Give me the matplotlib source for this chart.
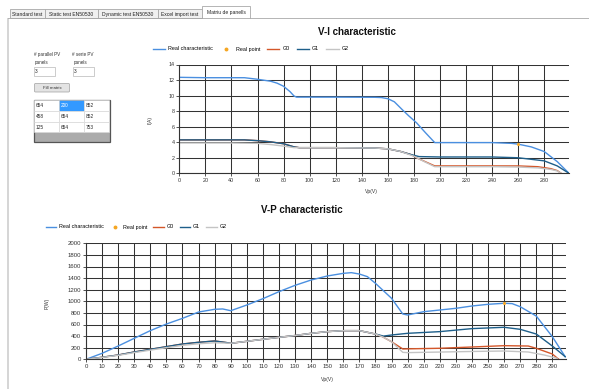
import matplotlib
matplotlib.use("Agg")
import matplotlib.pyplot as plt
from matplotlib.patches import Rectangle, FancyBboxPatch

plt.rcParams['font.family'] = ['Liberation Sans', 'DejaVu Sans']

# ---- data ----
tab_names = ["Standard test", "Static test EN50530", "Dynamic test EN50530",
             "Excel import test", "Matriu de panells"]
matrix_values = [["654", "200", "852"],
                 ["458", "654", "852"],
                 ["125", "654", "753"]]
n_parallel = "3"
n_serie = "3"

# V-I characteristic
vi_v_real = [0, 20, 40, 50, 60, 70, 75, 80, 85, 88, 90, 120, 150, 155, 160, 165,
             171, 176, 182, 189, 196, 220, 240, 255, 260, 270, 280, 290, 299]
vi_i_real = [12.35, 12.3, 12.3, 12.3, 12.1, 11.85, 11.6, 11.2, 10.5, 9.95, 9.8, 9.8,
             9.78, 9.75, 9.6, 9.2, 8.2, 7.4, 6.5, 5.2, 3.95, 3.95, 3.95, 3.85, 3.75,
             3.4, 2.8, 1.5, 0.0]
vi_v_g1 = [0, 40, 50, 60, 70, 80, 88, 92, 120, 150, 160, 170, 178, 184, 200, 240,
           260, 270, 280, 290, 299]
vi_i_g1 = [4.3, 4.3, 4.3, 4.2, 4.05, 3.8, 3.4, 3.3, 3.3, 3.25, 3.15, 2.8, 2.4, 2.15,
           2.1, 2.1, 2.0, 1.8, 1.6, 0.95, 0.0]
vi_v_g0 = [0, 40, 50, 60, 70, 80, 88, 92, 120, 150, 160, 170, 178, 182, 190, 196,
           240, 260, 275, 285, 290, 293]
vi_i_g0 = [4.3, 4.3, 4.3, 4.2, 4.05, 3.8, 3.4, 3.3, 3.3, 3.25, 3.15, 2.8, 2.4, 2.0,
           1.4, 0.95, 0.95, 0.95, 0.85, 0.6, 0.35, 0.0]
vi_v_g2 = [0, 40, 60, 70, 80, 88, 120, 150, 160, 170, 180, 188, 196, 240, 260, 275,
           285, 290, 293]
vi_i_g2 = [3.9, 3.9, 3.85, 3.7, 3.5, 3.3, 3.3, 3.25, 3.15, 2.8, 2.2, 1.5, 0.85, 0.85,
           0.8, 0.7, 0.5, 0.3, 0.0]
vi_point_v = [260]
vi_point_i = [3.75]

# V-P characteristic
vp_v_real = [0, 10, 20, 30, 40, 50, 60, 70, 80, 85, 90, 100, 110, 120, 130, 140, 150,
             160, 165, 170, 175, 180, 190, 197, 200, 210, 220, 230, 240, 250, 260, 265,
             270, 280, 290, 298]
vp_p_real = [0, 103, 229, 362, 494, 608, 706, 815, 862, 868, 838, 936, 1045, 1166,
             1275, 1367, 1436, 1482, 1494, 1470, 1425, 1310, 1052, 781, 764, 821, 850,
             879, 919, 948, 966, 960, 907, 746, 390, 45]
vp_v_g1 = [0, 10, 20, 30, 40, 50, 60, 70, 80, 87, 90, 100, 110, 120, 130, 140, 150,
           160, 170, 180, 185, 190, 200, 220, 240, 260, 270, 280, 290, 298]
vp_p_g1 = [0, 35, 74, 126, 172, 218, 264, 293, 316, 290, 276, 310, 345, 379, 410, 448,
           477, 494, 494, 436, 400, 419, 448, 477, 529, 552, 517, 436, 229, 45]
vp_v_g0 = [0, 10, 20, 30, 40, 50, 60, 70, 80, 87, 90, 100, 110, 120, 130, 140, 150,
           160, 170, 180, 184, 190, 197, 200, 220, 240, 260, 275, 280, 290, 294]
vp_p_g0 = [0, 35, 74, 126, 172, 218, 264, 293, 316, 290, 276, 310, 345, 379, 410, 448,
           477, 494, 494, 436, 395, 303, 178, 180, 190, 212, 235, 229, 190, 91, 0]
vp_v_g2 = [0, 10, 20, 30, 40, 50, 60, 70, 80, 87, 90, 100, 110, 120, 130, 140, 150,
           160, 170, 180, 185, 190, 197, 200, 220, 240, 260, 275, 285, 293]
vp_p_g2 = [0, 32, 68, 115, 158, 200, 240, 268, 285, 280, 276, 310, 345, 379, 410, 448,
           477, 494, 494, 436, 380, 303, 120, 115, 125, 135, 143, 126, 74, 17]
vp_point_v = [260]
vp_point_p = [966]

C_REAL, C_G0, C_G1, C_G2, C_PT = "#4a8fe0", "#d4572a", "#1e5f8a", "#c4c4c4", "#f5a623"

W, H = 589, 389
fig = plt.figure(figsize=(W / 100, H / 100), dpi=100)
fig.patch.set_facecolor("white")

# ---- window chrome (pixel coords) ----
ui = fig.add_axes([0, 0, 1, 1])
ui.set_xlim(0, W); ui.set_ylim(H, 0); ui.axis("off")

tab_x = [10, 45, 98, 158, 202, 250]
for k, name in enumerate(tab_names):
    x0, x1 = tab_x[k], tab_x[k + 1]
    sel = k == len(tab_names) - 1
    y0 = 6 if sel else 9
    ui.add_patch(Rectangle((x0, y0), x1 - x0, 18 - y0, facecolor="white" if sel else "#f0f0f0",
                           edgecolor="#a8a8a8", lw=0.6, zorder=2 if sel else 1))
    ui.text((x0 + x1) / 2, (y0 + 18) / 2 + 0.5, name, fontsize=3.6, ha="center",
            va="center", color="#222222", zorder=3)
ui.plot([8, 202], [18, 18], color="#a8a8a8", lw=0.6, zorder=2)
ui.plot([250, W], [18, 18], color="#a8a8a8", lw=0.6, zorder=2)
ui.add_patch(Rectangle((6.5, 18), 2.5, H - 18, facecolor="#d6d6d6", edgecolor="none"))

# inputs
ui.text(33.5, 54, "# parallel PV", fontsize=3.3, va="center", color="#333333")
ui.text(35, 62, "panels", fontsize=3.3, va="center", color="#333333")
ui.text(72.5, 54, "# serie PV", fontsize=3.3, va="center", color="#333333")
ui.text(74, 62, "panels", fontsize=3.3, va="center", color="#333333")
for bx, val in [(33.5, n_parallel), (72.7, n_serie)]:
    ui.add_patch(Rectangle((bx, 67), 21.5, 9, facecolor="white", edgecolor="#b8b8b8", lw=0.5))
    ui.text(bx + 1.5, 71.7, val, fontsize=3.5, va="center", color="#222222")
ui.add_patch(FancyBboxPatch((34.5, 83.5), 35, 8.5, boxstyle="round,pad=0,rounding_size=1",
                            facecolor="#e3e3e3", edgecolor="#a0a0a0", lw=0.5))
ui.text(52, 87.9, "Fill matrix", fontsize=3.2, ha="center", va="center", color="#333333")

# matrix grid
gx, gy, cw, rh = 33.5, 99.5, 25, 10.8
ui.add_patch(Rectangle((gx, gy), 3 * cw + 1.5, 42, facecolor="#ababab",
                       edgecolor="#555555", lw=0.9))
for r, row in enumerate(matrix_values):
    for c, val in enumerate(row):
        sel = (r, c) == (0, 1)
        ui.add_patch(Rectangle((gx + 0.5 + c * cw, gy + 0.5 + r * rh), cw, rh,
                               facecolor="#3399ff" if sel else "white",
                               edgecolor="#d8d8d8", lw=0.4))
        ui.text(gx + 2 + c * cw, gy + 0.5 + r * rh + rh / 2, val, fontsize=3.4, va="center",
                color="white" if sel else "#222222")


def style(ax, xmax, ymax, xstep, ystep):
    ax.set_xlim(0, xmax); ax.set_ylim(0, ymax)
    ax.set_xticks(range(0, int(xmax) + 1, xstep))
    ax.set_yticks(range(0, int(ymax) + 1, ystep))
    ax.grid(True, color="#333333", lw=0.75)
    ax.set_axisbelow(True)
    for s in ("top", "right"):
        ax.spines[s].set_visible(False)
    for s in ("left", "bottom"):
        ax.spines[s].set_color("#333333"); ax.spines[s].set_linewidth(0.8)
    ax.tick_params(length=2, width=0.6, pad=1.5, labelsize=3.9, colors="#333333")
    ax.patch.set_alpha(0)


# ---- V-I chart ----
ax1 = fig.add_axes([179.3 / W, 1 - 173.3 / H, 389.7 / W, 108.8 / H])
ax1.plot(vi_v_real, vi_i_real, color=C_REAL, lw=1.0, label="Real characteristic")
ax1.plot(vi_point_v, vi_point_i, "o", color=C_PT, ms=1.2, label="Real point", zorder=5)
ax1.plot(vi_v_g0, vi_i_g0, color=C_G0, lw=1.0, label="G0")
ax1.plot(vi_v_g1, vi_i_g1, color=C_G1, lw=1.0, label="G1")
ax1.plot(vi_v_g2, vi_i_g2, color=C_G2, lw=1.0, label="G2")
style(ax1, 299, 14, 20, 2)
ax1.set_xlabel("Vp(V)", fontsize=3.6, color="#333333")
ax1.set_ylabel("I(A)", fontsize=3.6, color="#333333")
ax1.xaxis.set_label_coords(0.494, -0.145)
ax1.yaxis.set_label_coords(-0.0675, 0.49)
ax1.legend(ncol=5, loc="center left", bbox_to_anchor=(150 / W, 1 - 49 / H),
           bbox_transform=fig.transFigure, frameon=False, fontsize=3.9, borderpad=0,
           handlelength=2.3, handletextpad=0.55, columnspacing=1.3, markerscale=1.5)
fig.text(357 / W, 1 - 31.7 / H, "V-I characteristic", fontsize=7, fontweight="bold",
         ha="center", va="center", color="#111111")

# ---- V-P chart ----
ax2 = fig.add_axes([86 / W, 1 - 359.3 / H, 480 / W, 116 / H])
ax2.plot(vp_v_real, vp_p_real, color=C_REAL, lw=1.0, label="Real characteristic")
ax2.plot(vp_point_v, vp_point_p, "o", color=C_PT, ms=1.2, label="Real point", zorder=5)
ax2.plot(vp_v_g0, vp_p_g0, color=C_G0, lw=1.0, label="G0")
ax2.plot(vp_v_g1, vp_p_g1, color=C_G1, lw=1.0, label="G1")
ax2.plot(vp_v_g2, vp_p_g2, color=C_G2, lw=1.0, label="G2")
style(ax2, 298.5, 2000, 10, 200)
ax2.tick_params(labelsize=4.3)
ax2.set_xlabel("Vp(V)", fontsize=3.6, color="#333333")
ax2.set_ylabel("P(W)", fontsize=3.6, color="#333333")
ax2.xaxis.set_label_coords(0.504, -0.153)
ax2.yaxis.set_label_coords(-0.075, 0.485)
ax2.legend(ncol=5, loc="center left", bbox_to_anchor=(43 / W, 1 - 227 / H),
           bbox_transform=fig.transFigure, frameon=False, fontsize=3.9, borderpad=0,
           handlelength=1.9, handletextpad=0.55, columnspacing=1.1, markerscale=1.5)
fig.text(302 / W, 1 - 210 / H, "V-P characteristic", fontsize=7, fontweight="bold",
         ha="center", va="center", color="#111111")

fig.savefig("out.png", dpi=100)
